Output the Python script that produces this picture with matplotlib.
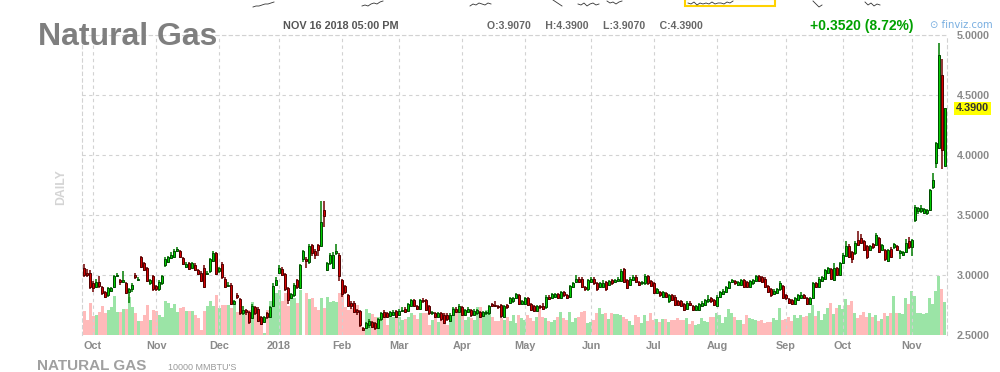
import numpy as np
import matplotlib
matplotlib.use("Agg")
from matplotlib import pyplot as plt
from matplotlib.patches import Rectangle

plt.rcParams['font.family'] = ['Liberation Sans', 'DejaVu Sans']

# daily candles, late Sep 2017 .. Nov 16 2018
opens = [
    3.06, 3.02, 3.02, 2.93, 2.90, 2.94, 2.90, 2.86, 2.83, 2.87,
    2.90, 2.99, 2.96, 2.94, 2.93, 2.86, 2.88, 3.00, 2.96, 3.15,
    3.10, 3.06, 2.93, 2.99, 2.91, 2.88, 2.93, 3.08, 3.11, 3.14,
    3.15, 3.20, 3.20, 3.14, 3.07, 3.10, 3.06, 3.08, 3.04, 3.02,
    3.06, 3.01, 3.03, 3.12, 3.18, 3.03, 3.09, 2.97, 2.91, 2.92,
    2.76, 2.83, 2.80, 2.68, 2.71, 2.69, 2.64, 2.73, 2.72, 2.65,
    2.61, 2.68, 2.65, 2.74, 2.92, 3.02, 3.05, 3.01, 2.89, 2.81,
    2.83, 2.96, 2.89, 3.13, 3.13, 3.11, 3.25, 3.20, 3.25, 3.24,
    3.54, 3.04, 3.10, 3.06, 3.18, 3.17, 2.96, 2.91, 2.83, 2.77,
    2.77, 2.71, 2.70, 2.56, 2.56, 2.58, 2.61, 2.60, 2.56, 2.63,
    2.69, 2.68, 2.66, 2.67, 2.70, 2.67, 2.70, 2.72, 2.70, 2.74,
    2.79, 2.74, 2.72, 2.79, 2.79, 2.74, 2.68, 2.68, 2.65, 2.68,
    2.67, 2.67, 2.62, 2.67, 2.72, 2.69, 2.73, 2.67, 2.69, 2.71,
    2.67, 2.68, 2.69, 2.66, 2.68, 2.68, 2.76, 2.75, 2.74, 2.75,
    2.65, 2.75, 2.77, 2.78, 2.81, 2.83, 2.76, 2.76, 2.81, 2.76,
    2.74, 2.70, 2.74, 2.74, 2.73, 2.82, 2.81, 2.82, 2.84, 2.81,
    2.86, 2.83, 2.82, 2.90, 2.94, 2.97, 2.97, 2.90, 2.88, 2.94,
    2.97, 2.93, 2.90, 2.90, 2.94, 2.92, 2.96, 2.94, 2.95, 2.95,
    3.05, 2.96, 2.92, 2.96, 2.98, 2.94, 2.93, 2.93, 2.99, 2.95,
    2.93, 2.85, 2.86, 2.82, 2.85, 2.78, 2.83, 2.82, 2.78, 2.78,
    2.76, 2.72, 2.77, 2.74, 2.71, 2.71, 2.74, 2.75, 2.78, 2.81,
    2.79, 2.74, 2.82, 2.84, 2.86, 2.89, 2.94, 2.95, 2.92, 2.92,
    2.96, 2.94, 2.90, 2.93, 2.95, 2.99, 2.98, 2.97, 2.91, 2.88,
    2.84, 2.85, 2.88, 2.91, 2.83, 2.80, 2.79, 2.76, 2.79, 2.81,
    2.83, 2.81, 2.76, 2.81, 2.93, 2.90, 2.95, 2.97, 3.02, 3.05,
    2.96, 3.06, 3.00, 3.10, 3.16, 3.24, 3.19, 3.18, 3.29, 3.31,
    3.28, 3.24, 3.21, 3.26, 3.25, 3.31, 3.21, 3.21, 3.12, 3.22,
    3.23, 3.24, 3.18, 3.17, 3.19, 3.28, 3.23, 3.46, 3.53, 3.53,
    3.52, 3.52, 3.54, 3.73, 3.93, 4.06, 4.67, 3.907,
]
closes = [
    3.00, 3.00, 2.90, 2.89, 2.94, 2.91, 2.85, 2.82, 2.89, 2.89,
    2.99, 3.00, 2.94, 2.96, 2.85, 2.88, 2.92, 2.98, 2.97, 3.07,
    3.04, 2.95, 2.96, 2.88, 2.88, 2.94, 2.99, 3.13, 3.15, 3.17,
    3.20, 3.22, 3.15, 3.09, 3.09, 3.05, 3.10, 3.04, 3.01, 2.95,
    2.90, 3.02, 3.13, 3.18, 3.01, 3.06, 2.98, 2.90, 2.92, 2.76,
    2.78, 2.82, 2.68, 2.71, 2.69, 2.61, 2.74, 2.68, 2.62, 2.59,
    2.65, 2.65, 2.73, 2.91, 2.96, 3.06, 3.00, 2.88, 2.79, 2.84,
    2.92, 2.90, 3.08, 3.20, 3.12, 3.24, 3.18, 3.17, 3.21, 3.44,
    3.49, 3.10, 3.17, 3.17, 3.20, 2.99, 2.84, 2.86, 2.74, 2.74,
    2.69, 2.69, 2.58, 2.54, 2.60, 2.62, 2.57, 2.56, 2.63, 2.68,
    2.65, 2.65, 2.69, 2.69, 2.65, 2.70, 2.71, 2.69, 2.76, 2.79,
    2.74, 2.72, 2.79, 2.78, 2.71, 2.68, 2.69, 2.65, 2.68, 2.63,
    2.60, 2.63, 2.67, 2.72, 2.69, 2.74, 2.67, 2.71, 2.72, 2.67,
    2.70, 2.71, 2.65, 2.69, 2.69, 2.74, 2.74, 2.74, 2.73, 2.66,
    2.74, 2.73, 2.81, 2.81, 2.84, 2.76, 2.78, 2.81, 2.75, 2.71,
    2.70, 2.74, 2.73, 2.72, 2.82, 2.80, 2.84, 2.84, 2.81, 2.86,
    2.83, 2.81, 2.91, 2.93, 2.97, 2.94, 2.90, 2.88, 2.96, 2.97,
    2.93, 2.88, 2.93, 2.93, 2.88, 2.95, 2.93, 2.96, 2.97, 3.03,
    2.94, 2.89, 2.97, 2.98, 2.94, 2.92, 2.94, 2.99, 2.93, 2.91,
    2.85, 2.88, 2.83, 2.86, 2.82, 2.83, 2.79, 2.75, 2.75, 2.74,
    2.71, 2.77, 2.75, 2.71, 2.74, 2.76, 2.77, 2.79, 2.80, 2.78,
    2.75, 2.82, 2.86, 2.87, 2.90, 2.94, 2.96, 2.93, 2.94, 2.96,
    2.90, 2.90, 2.95, 2.96, 2.99, 2.95, 2.94, 2.90, 2.86, 2.83,
    2.87, 2.88, 2.93, 2.81, 2.81, 2.77, 2.76, 2.81, 2.83, 2.83,
    2.81, 2.76, 2.81, 2.93, 2.90, 2.97, 2.98, 3.04, 3.06, 2.97,
    3.06, 3.00, 3.10, 3.17, 3.24, 3.15, 3.13, 3.27, 3.25, 3.27,
    3.21, 3.15, 3.24, 3.23, 3.33, 3.19, 3.25, 3.13, 3.21, 3.15,
    3.26, 3.21, 3.20, 3.19, 3.27, 3.23, 3.29, 3.57, 3.56, 3.56,
    3.55, 3.54, 3.71, 3.79, 4.10, 4.83, 4.038, 4.39,
]
highs = [
    3.09, 3.05, 3.04, 2.95, 2.97, 2.99, 2.91, 2.87, 2.90, 2.90,
    3.00, 3.02, 2.97, 3.03, 2.94, 2.89, 2.93, 3.02, 2.98, 3.16,
    3.11, 3.07, 2.97, 3.00, 2.92, 2.96, 3.00, 3.15, 3.16, 3.19,
    3.22, 3.23, 3.21, 3.15, 3.11, 3.11, 3.11, 3.10, 3.05, 3.03,
    3.08, 3.03, 3.14, 3.20, 3.19, 3.07, 3.11, 2.98, 2.94, 2.93,
    2.79, 2.85, 2.81, 2.74, 2.72, 2.70, 2.76, 2.74, 2.73, 2.66,
    2.66, 2.69, 2.74, 2.93, 2.98, 3.08, 3.07, 3.02, 2.90, 2.85,
    2.93, 2.97, 3.09, 3.21, 3.15, 3.26, 3.26, 3.22, 3.26, 3.62,
    3.62, 3.11, 3.18, 3.19, 3.26, 3.18, 2.97, 2.92, 2.84, 2.78,
    2.78, 2.72, 2.71, 2.57, 2.61, 2.63, 2.62, 2.61, 2.64, 2.69,
    2.71, 2.69, 2.70, 2.71, 2.71, 2.72, 2.73, 2.73, 2.77, 2.80,
    2.80, 2.75, 2.80, 2.81, 2.80, 2.75, 2.70, 2.69, 2.69, 2.69,
    2.68, 2.68, 2.68, 2.73, 2.73, 2.76, 2.74, 2.72, 2.73, 2.72,
    2.72, 2.72, 2.70, 2.70, 2.70, 2.75, 2.77, 2.78, 2.75, 2.76,
    2.75, 2.76, 2.82, 2.82, 2.85, 2.84, 2.79, 2.82, 2.82, 2.77,
    2.75, 2.75, 2.75, 2.77, 2.83, 2.83, 2.85, 2.85, 2.85, 2.87,
    2.87, 2.84, 2.92, 2.94, 3.00, 2.98, 2.98, 2.91, 2.97, 2.98,
    2.98, 2.94, 2.94, 2.96, 2.95, 2.96, 2.97, 2.97, 2.98, 3.05,
    3.06, 2.97, 2.98, 3.00, 3.00, 2.95, 2.95, 3.01, 3.00, 2.96,
    2.94, 2.89, 2.87, 2.87, 2.86, 2.84, 2.84, 2.83, 2.79, 2.79,
    2.77, 2.78, 2.78, 2.75, 2.75, 2.77, 2.78, 2.80, 2.83, 2.82,
    2.80, 2.83, 2.87, 2.88, 2.91, 2.95, 2.97, 2.96, 2.95, 2.97,
    2.97, 2.95, 2.96, 2.97, 3.00, 3.00, 2.99, 2.98, 2.92, 2.89,
    2.88, 2.89, 2.95, 2.92, 2.84, 2.81, 2.80, 2.82, 2.84, 2.86,
    2.84, 2.82, 2.82, 2.94, 2.94, 2.98, 2.99, 3.05, 3.07, 3.06,
    3.10, 3.07, 3.11, 3.18, 3.28, 3.26, 3.20, 3.28, 3.37, 3.34,
    3.29, 3.25, 3.25, 3.27, 3.35, 3.32, 3.26, 3.22, 3.22, 3.23,
    3.27, 3.25, 3.21, 3.20, 3.30, 3.32, 3.30, 3.58, 3.57, 3.58,
    3.56, 3.55, 3.72, 3.85, 4.11, 4.93, 4.80, 4.39,
]
lows = [
    2.98, 2.98, 2.88, 2.86, 2.89, 2.89, 2.83, 2.81, 2.82, 2.86,
    2.89, 2.98, 2.92, 2.93, 2.84, 2.77, 2.86, 2.97, 2.95, 3.06,
    3.03, 2.94, 2.92, 2.87, 2.87, 2.87, 2.92, 3.07, 3.10, 3.13,
    3.14, 3.19, 3.14, 3.08, 3.06, 3.04, 3.05, 3.03, 3.00, 2.94,
    2.89, 3.00, 3.02, 3.11, 3.00, 3.02, 2.97, 2.89, 2.90, 2.75,
    2.75, 2.80, 2.67, 2.67, 2.67, 2.59, 2.63, 2.67, 2.61, 2.58,
    2.60, 2.63, 2.64, 2.73, 2.91, 3.01, 2.99, 2.87, 2.76, 2.80,
    2.82, 2.88, 2.88, 3.11, 3.06, 3.09, 3.16, 3.13, 3.16, 3.23,
    3.40, 3.03, 3.08, 3.05, 3.17, 2.95, 2.82, 2.84, 2.73, 2.72,
    2.68, 2.67, 2.57, 2.53, 2.55, 2.56, 2.56, 2.54, 2.55, 2.62,
    2.64, 2.64, 2.65, 2.66, 2.64, 2.66, 2.69, 2.68, 2.69, 2.73,
    2.73, 2.71, 2.71, 2.77, 2.70, 2.67, 2.67, 2.64, 2.64, 2.62,
    2.59, 2.62, 2.61, 2.66, 2.68, 2.68, 2.66, 2.66, 2.68, 2.65,
    2.66, 2.67, 2.64, 2.65, 2.67, 2.67, 2.73, 2.73, 2.72, 2.64,
    2.64, 2.72, 2.76, 2.77, 2.80, 2.75, 2.75, 2.75, 2.74, 2.70,
    2.69, 2.69, 2.72, 2.71, 2.72, 2.79, 2.80, 2.81, 2.80, 2.80,
    2.82, 2.80, 2.81, 2.89, 2.93, 2.93, 2.89, 2.87, 2.87, 2.93,
    2.92, 2.87, 2.89, 2.89, 2.87, 2.91, 2.92, 2.93, 2.94, 2.94,
    2.93, 2.88, 2.91, 2.95, 2.93, 2.91, 2.92, 2.92, 2.92, 2.90,
    2.84, 2.84, 2.82, 2.81, 2.81, 2.77, 2.78, 2.74, 2.74, 2.73,
    2.70, 2.71, 2.74, 2.70, 2.70, 2.70, 2.73, 2.74, 2.77, 2.77,
    2.74, 2.73, 2.81, 2.83, 2.85, 2.88, 2.93, 2.92, 2.91, 2.91,
    2.89, 2.89, 2.89, 2.92, 2.94, 2.94, 2.93, 2.89, 2.85, 2.82,
    2.83, 2.84, 2.87, 2.80, 2.79, 2.76, 2.75, 2.75, 2.78, 2.80,
    2.80, 2.75, 2.75, 2.80, 2.89, 2.89, 2.94, 2.96, 3.01, 2.96,
    2.95, 2.99, 2.99, 3.09, 3.15, 3.14, 3.10, 3.17, 3.24, 3.26,
    3.20, 3.13, 3.20, 3.22, 3.24, 3.18, 3.20, 3.12, 3.11, 3.14,
    3.22, 3.20, 3.13, 3.16, 3.18, 3.22, 3.16, 3.44, 3.51, 3.52,
    3.51, 3.50, 3.53, 3.72, 3.89, 4.05, 3.88, 3.907,
]
# volume, in the same relative units as the chart's volume panel
volumes = [
    24, 15, 32, 19, 20, 23, 29, 22, 25, 28, 39, 23, 23, 26, 26, 38, 28, 22, 14, 14,
    20, 30, 15, 25, 24, 20, 18, 34, 32, 27, 31, 23, 27, 28, 24, 24, 24, 20, 17, 5,
    24, 29, 34, 29, 40, 27, 30, 30, 30, 27, 30, 23, 30, 25, 25, 25, 33, 22, 23, 18,
    2, 25, 34, 38, 42, 45,
    34, 42, 29, 37, 37, 32, 45, 0, 42, 36, 37, 28, 25, 37, 27, 38, 33, 34, 33, 42,
    40, 28, 25, 27, 30, 30, 18, 7, 26, 22, 21, 18, 18, 22, 22, 10, 18, 18, 20, 18,
    15, 16, 18, 22, 20, 16, 22, 22, 22, 10, 15, 22, 13, 22, 22, 10, 18, 27, 22, 22,
    23, 15, 18,
    17, 15, 28, 28, 23, 25, 23, 18, 14, 14, 17, 15, 18, 14, 20, 12, 20, 17, 15, 20,
    17, 14, 18, 28, 18, 17, 14, 13, 15, 18, 23, 17, 15, 23, 13, 17, 18, 23, 24, 12,
    13, 15, 22, 27, 21, 22, 16, 22, 21, 21, 20, 18, 16, 14, 10, 20, 18,
    12, 20, 14, 22, 15, 16, 13, 16, 16, 13, 15, 15, 17, 15, 15, 17, 11, 14, 10, 11,
    17, 14, 13, 18, 18, 22, 20, 12, 18, 26, 22, 18, 15, 15, 11, 20, 17, 16, 15, 14,
    15, 12, 13, 13, 17, 15, 27, 15, 16,
    18, 14, 20, 17, 20, 18, 19, 22, 30, 19, 24, 15, 21, 27, 32, 21, 27, 30, 26, 36,
    30, 34, 22, 17, 20, 23, 18, 22, 18, 20, 14, 16, 22, 19, 22, 39, 22, 22, 21, 37,
    31, 44,
    39, 22, 22, 21, 22, 37, 31, 44, 59, 46, 33,
]

# trading days per month: 3 days of late Sep, then Oct 2017 .. Nov 2018
month_days = [3, 21, 21, 20, 21, 19, 21, 21, 22, 21, 21, 23, 19, 23, 12]
month_labels = ['Oct', 'Nov', 'Dec', '2018', 'Feb', 'Mar', 'Apr', 'May',
                'Jun', 'Jul', 'Aug', 'Sep', 'Oct', 'Nov']
price_ticks = [2.5, 3.0, 3.5, 4.0, 4.5, 5.0]

# tiny thumbnails of other charts cut off at the very top (x start px, y values)
thumbs = [
    (253, [7, 6, 6, 5, 4, 4, 3, 2]),
    (362, [6, 5, 6, 4, 3, 4, 2, 1]),
    (470, [6, 4, 5, 3, 4, 5, 3, 4]),
    (553, [0, 2, 4, 6]),
    (578, [4, 5, 3, 6, 4, 3, 5, 4]),
    (607, [1, 3, 2, 4, 2, 1]),
    (688, [3, 4, 2, 5, 3, 4, 3, 4, 2, 4, 3, 3, 4, 2, 3, 1]),
    (813, [1, 4, 7, 5]),
    (865, [2, 5, 3, 6, 4, 5]),
]

o = np.array(opens)
c = np.array(closes)
h = np.array(highs)
l = np.array(lows)
v = np.array(volumes)
x = np.arange(len(o))
up = c >= o
month_starts = np.cumsum(month_days)[:-1]

W, H = 1000, 372
fig = plt.figure(figsize=(W / 100, H / 100), dpi=100)
ax = fig.add_axes([82 / W, 37 / H, 865 / W, 300 / H])
ax2 = ax.twinx()
ax.set_zorder(ax2.get_zorder() + 1)
ax.patch.set_visible(False)

# volume panel
vcol = np.where(up, '#9be4a6', '#ffbaba')
ax2.bar(x, v, width=1.0, color=vcol, linewidth=0)
ax2.set_ylim(0, 300)
ax2.set_yticks([])
for s in ax2.spines.values():
    s.set_visible(False)

# candles
green_face, green_edge = '#00cc00', '#004a00'
red_face, red_edge = '#d40000', '#520000'
ax.vlines(x[up], l[up], h[up], color='#007c00', lw=1.1, zorder=3)
ax.vlines(x[~up], l[~up], h[~up], color='#700000', lw=1.1, zorder=3)
ax.bar(x[up], (c - o)[up], bottom=o[up], width=0.82, color=green_face,
       edgecolor=green_edge, linewidth=0.7, zorder=4)
ax.bar(x[~up], (o - c)[~up], bottom=c[~up], width=0.82, color=red_face,
       edgecolor=red_edge, linewidth=0.7, zorder=4)

ax.set_xlim(-0.667, len(o) - 1 + 0.667)
ax.set_ylim(2.5, 5.0)

ax.set_xticks(month_starts)
ax.set_xticklabels(month_labels)
ax.yaxis.tick_right()
ax.set_yticks(price_ticks)
ax.set_yticklabels(['%.4f' % p for p in price_ticks])
ax.tick_params(axis='x', length=0, pad=4, labelsize=7.8, labelcolor='#8a8a8a')
ax.tick_params(axis='y', length=0, pad=7, labelsize=7.8, labelcolor='#8a8a8a')
for lbl in ax.get_xticklabels() + ax.get_yticklabels():
    lbl.set_fontweight('bold')

ax.grid(True, linestyle=(0, (3, 3)), color='#d2d2d2', lw=0.8, zorder=0)
ax.yaxis.get_gridlines()[0].set_visible(False)
ax.spines['bottom'].set_visible(False)
for side in ['top', 'left', 'right']:
    ax.spines[side].set_linestyle((0, (3, 3)))
    ax.spines[side].set_color('#d2d2d2')
    ax.spines[side].set_linewidth(0.8)

# last price tag
ax.text(1.0105, c[-1], '%.4f' % c[-1], transform=ax.get_yaxis_transform(),
        va='center', ha='left', fontsize=7.8, fontweight='bold', color='#333333',
        bbox=dict(facecolor='#ffff00', edgecolor='none', pad=1.2))

# top thumbnail strip
tx = fig.add_axes([0, 1 - 10 / H, 1, 10 / H])
tx.set_xlim(0, W)
tx.set_ylim(10, 0)
tx.axis('off')
for x0, ys in thumbs:
    tx.plot(x0 + 3 * np.arange(len(ys)), ys, color='#333333', lw=0.6)
tx.add_patch(Rectangle((685, -1), 90, 7, fill=False, edgecolor='#ffd200', lw=1.5))


def px(xp, yp):
    return xp / W, 1 - yp / H


# header
fig.text(*px(38, 45), 'Natural Gas', fontsize=23, fontweight='bold',
         color='#7f7f7f', va='baseline')
fig.text(*px(283, 29), 'NOV 16 2018 05:00 PM', fontsize=7.8, fontweight='bold',
         color='#555555', va='baseline')
fig.text(*px(487, 29),
         'O:%.4f     H:%.4f     L:%.4f     C:%.4f' % (o[-1], h[-1], l[-1], c[-1]),
         fontsize=7.6, fontweight='bold', color='#666666', va='baseline')
chg = c[-1] - c[-2]
fig.text(*px(913, 30), '+%.4f (%.2f%%)' % (chg, chg / c[-2] * 100), fontsize=10,
         fontweight='bold', color='#00a000', va='baseline', ha='right')
fig.text(*px(930, 28), '\u2299 finviz.com', fontsize=7.2, color='#78aee0',
         va='baseline', family=['DejaVu Sans'])

fig.text(*px(61, 187), 'DAILY', rotation=90, fontsize=8.8, fontweight='bold',
         color='#d4d4d4', va='center', ha='center')

# footer
fig.text(*px(37, 370), 'NATURAL GAS', fontsize=11, fontweight='bold',
         color='#a0a0a0', va='baseline')
fig.text(*px(168, 370), "10000 MMBTU'S", fontsize=6.5, color='#9a9a9a',
         va='baseline')

fig.savefig('out.png', dpi=100, facecolor='white')
